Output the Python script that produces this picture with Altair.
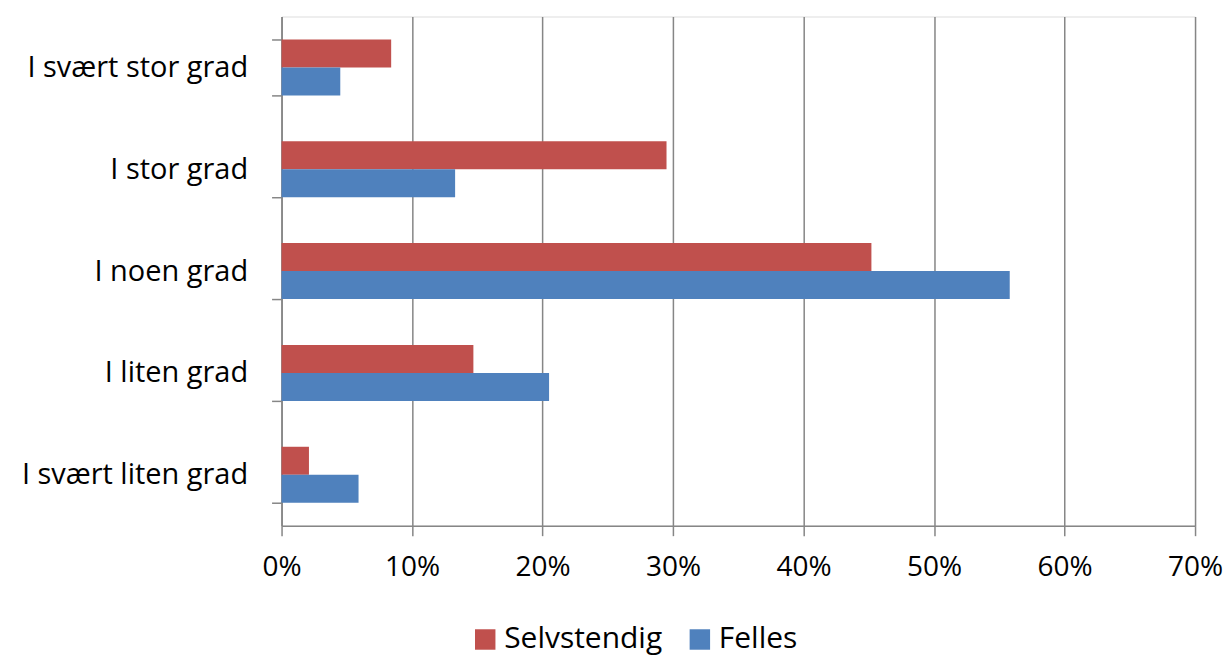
import altair as alt
import pandas as pd

categories = ["I svært stor grad", "I stor grad", "I noen grad", "I liten grad", "I svært liten grad"]
series = ["Selvstendig", "Felles"]
selvstendig = [0.084, 0.295, 0.452, 0.147, 0.021]
felles = [0.045, 0.133, 0.558, 0.205, 0.059]
colors = ["#C0504D", "#4F81BD"]

rows = []
for i, c in enumerate(categories):
    rows.append({"kategori": c, "serie": series[0], "verdi": selvstendig[i]})
    rows.append({"kategori": c, "serie": series[1], "verdi": felles[i]})
df = pd.DataFrame(rows)

FONT = "Open Sans"
GRAY = "#868686"

chart = alt.Chart(df).mark_bar().encode(
    y=alt.Y("kategori:N", sort=categories, title=None,
            scale=alt.Scale(paddingInner=0.45, paddingOuter=0.225),
            axis=alt.Axis(tickBand="extent", grid=False, domainColor=GRAY, tickColor=GRAY,
                          domainWidth=1.5, tickWidth=1.5, tickSize=10, labelPadding=24,
                          labelLimit=0,
                          labelFont=FONT, labelFontSize=29, labelColor="black", labelFontWeight="normal")),
    yOffset=alt.YOffset("serie:N", sort=series),
    x=alt.X("verdi:Q", title=None,
            scale=alt.Scale(domain=[0, 0.7], nice=False),
            axis=alt.Axis(format=".0%", values=[0, 0.1, 0.2, 0.3, 0.4, 0.5, 0.6, 0.7],
                          grid=True, gridColor=GRAY, gridWidth=1.5, labelFlush=False,
                          domainColor=GRAY, tickColor=GRAY, domainWidth=1.5, tickWidth=1.5,
                          tickSize=10, labelPadding=18,
                          labelFont=FONT, labelFontSize=28, labelColor="black")),
    color=alt.Color("serie:N", sort=series,
                    scale=alt.Scale(domain=series, range=colors),
                    legend=alt.Legend(title=None, orient="none", legendX=189, legendY=609,
                                      direction="horizontal", symbolType="square", symbolSize=420,
                                      symbolStrokeWidth=0, labelFont=FONT, labelFontSize=30,
                                      labelColor="black", columnPadding=22, labelOffset=4)),
).properties(
    width=915, height=510,
    autosize=alt.AutoSizeParams(type="none"),
    padding={"left": 274, "top": 8, "right": 28, "bottom": 133},
).configure_view(stroke=None).configure(background="white")

chart.save("out.html", embed_options={"renderer": "svg", "actions": False})
